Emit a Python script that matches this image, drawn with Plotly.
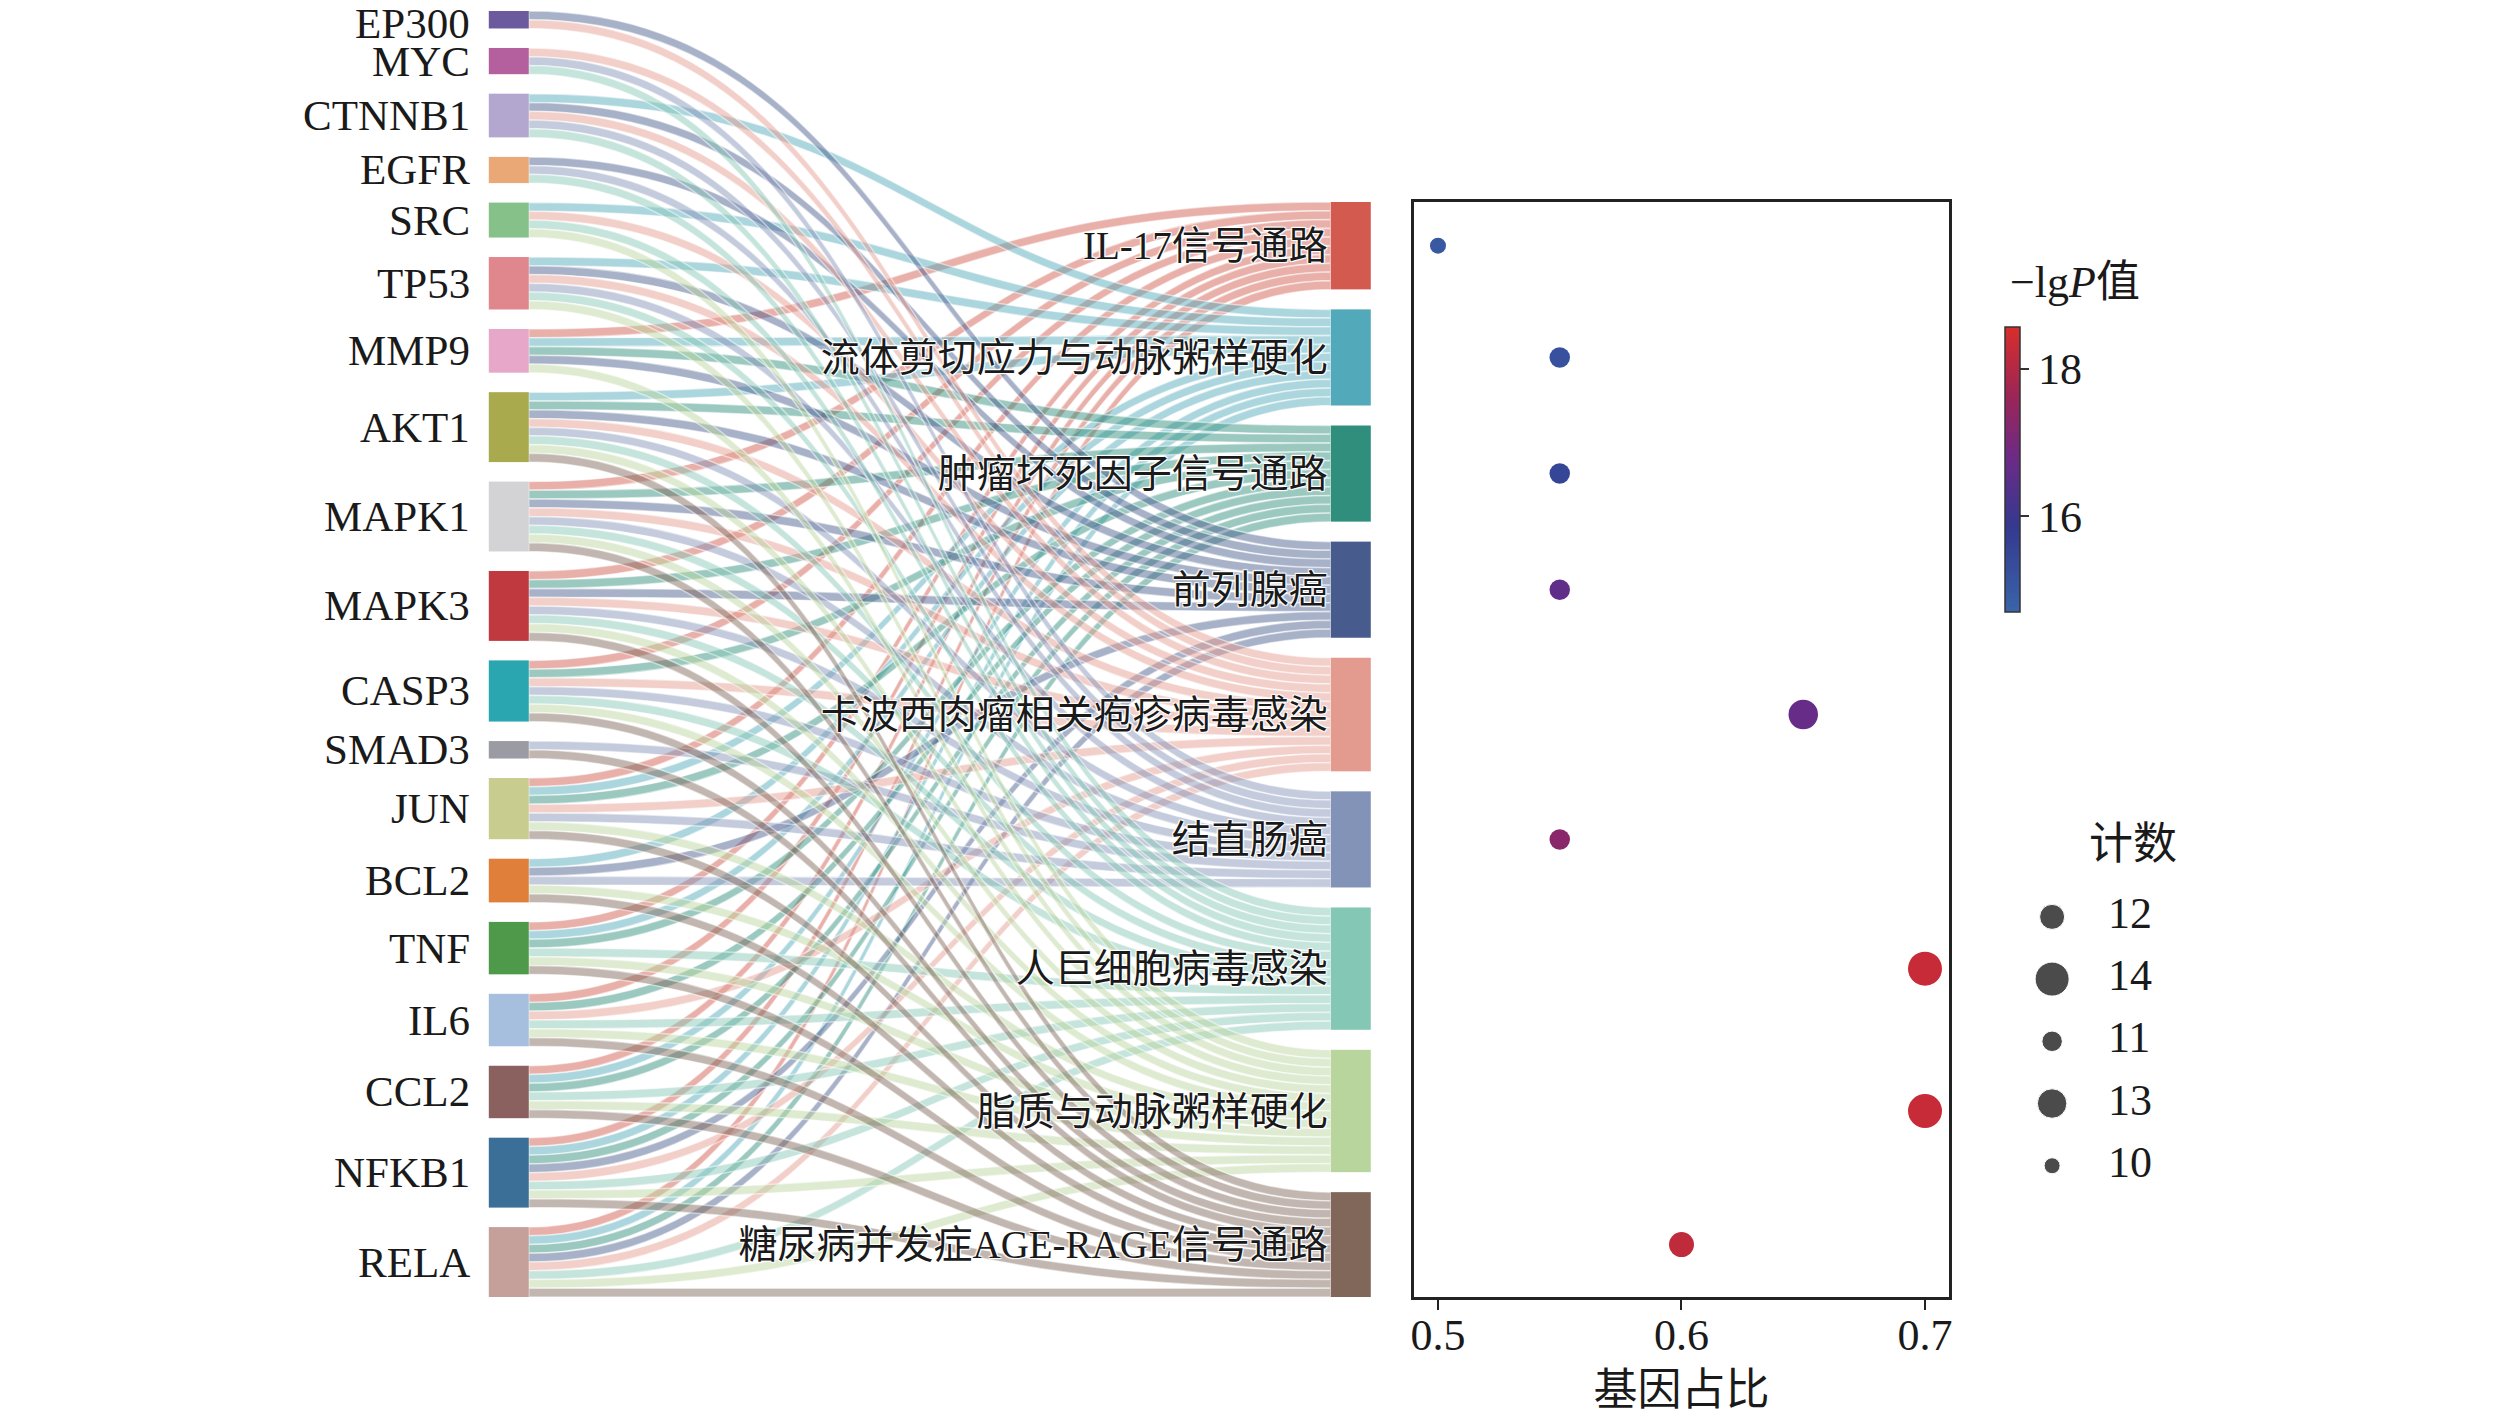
import plotly.graph_objects as go

# genes (left column of the sankey), top to bottom
genes = ["EP300", "MYC", "CTNNB1", "EGFR", "SRC", "TP53", "MMP9", "AKT1", "MAPK1", "MAPK3",
         "CASP3", "SMAD3", "JUN", "BCL2", "TNF", "IL6", "CCL2", "NFKB1", "RELA"]
gene_colors = ["#6b5b9e", "#b5609e", "#b3a6cf", "#eba877", "#86c18a", "#e0868d", "#e6a7c9",
               "#a9aa4e", "#d3d3d5", "#c0393f", "#2aa6b0", "#9a9ba3", "#c8cc8e", "#e07f3a",
               "#4e9a4a", "#a6bfdf", "#8a615e", "#3b6f97", "#c5a09b"]

# KEGG pathways (right column), top to bottom
pathways = ["IL-17信号通路", "流体剪切应力与动脉粥样硬化", "肿瘤坏死因子信号通路", "前列腺癌",
            "卡波西肉瘤相关疱疹病毒感染", "结直肠癌", "人巨细胞病毒感染", "脂质与动脉粥样硬化",
            "糖尿病并发症AGE-RAGE信号通路"]
pathway_colors = ["#d25a4e", "#52a9b9", "#2f8f7c", "#475b8c", "#e39a8f", "#8393b7",
                  "#85c7b5", "#b9d59e", "#806759"]

# genes in each pathway
il17_genes = ["MMP9", "MAPK1", "MAPK3", "CASP3", "JUN", "TNF", "IL6", "CCL2", "NFKB1", "RELA"]
fluid_genes = ["CTNNB1", "SRC", "TP53", "MMP9", "AKT1", "JUN", "BCL2", "TNF", "CCL2", "NFKB1", "RELA"]
tnf_genes = ["MMP9", "AKT1", "MAPK1", "MAPK3", "CASP3", "JUN", "TNF", "IL6", "CCL2", "NFKB1", "RELA"]
prostate_genes = ["EP300", "CTNNB1", "EGFR", "TP53", "MMP9", "AKT1", "MAPK1", "MAPK3", "BCL2", "NFKB1", "RELA"]
kaposi_genes = ["EP300", "MYC", "CTNNB1", "SRC", "TP53", "AKT1", "MAPK1", "MAPK3", "CASP3", "JUN",
                "IL6", "NFKB1", "RELA"]
colorectal_genes = ["MYC", "CTNNB1", "EGFR", "TP53", "AKT1", "MAPK1", "MAPK3", "CASP3", "SMAD3", "JUN", "BCL2"]
hcmv_genes = ["MYC", "CTNNB1", "EGFR", "SRC", "TP53", "AKT1", "MAPK1", "MAPK3", "CASP3", "TNF",
              "IL6", "CCL2", "NFKB1", "RELA"]
lipid_genes = ["SRC", "TP53", "MMP9", "AKT1", "MAPK1", "MAPK3", "CASP3", "JUN", "BCL2", "TNF",
               "IL6", "CCL2", "NFKB1", "RELA"]
age_genes = ["AKT1", "MAPK1", "MAPK3", "CASP3", "SMAD3", "JUN", "BCL2", "TNF", "IL6", "CCL2", "NFKB1", "RELA"]
pathway_genes = [il17_genes, fluid_genes, tnf_genes, prostate_genes, kaposi_genes,
                 colorectal_genes, hcmv_genes, lipid_genes, age_genes]

# enrichment dot plot
gene_ratio = [0.5, 0.55, 0.55, 0.55, 0.65, 0.55, 0.7, 0.7, 0.6]
gene_count = [10, 11, 11, 11, 13, 11, 14, 14, 12]
neg_log_p = [15.0, 15.2, 15.5, 16.6, 16.7, 17.3, 18.3, 18.3, 18.2]

legend_counts = [12, 14, 11, 13, 10]

FONT = "Liberation Serif, Noto Sans CJK SC, serif"
W, H = 2520, 1423

# sankey geometry (pixels)
sk_top, sk_bot = 11, 1297
sk_left, sk_right = 487, 1371
thick = 40
pad = 19.5
right_gap = 20
Hd = sk_bot - sk_top
Wd = sk_right - sk_left


def hex_rgba(h, a):
    h = h.lstrip("#")
    return "rgba(%d,%d,%d,%.2f)" % (int(h[0:2], 16), int(h[2:4], 16), int(h[4:6], 16), a)


def dot_size(c):
    return 4.5 * c - 29


# build links
sources, targets, colors = [], [], []
for p, members in enumerate(pathway_genes):
    for g in members:
        sources.append(genes.index(g))
        targets.append(len(genes) + p)
        colors.append(hex_rgba(pathway_colors[p], 0.48))
total = len(sources)
gene_deg = [sources.count(i) for i in range(len(genes))]
path_cnt = [len(m) for m in pathway_genes]

ky = (Hd - (len(genes) - 1) * pad) / total


def centers(values, gap, start):
    out, y = [], start
    for v in values:
        out.append(y + v * ky / 2)
        y += v * ky + gap
    return out


left_c = centers(gene_deg, pad, 0)
right_top = Hd - (total * ky + (len(pathways) - 1) * right_gap)
right_c = centers(path_cnt, right_gap, right_top)

node_x = [thick / 2 / Wd] * len(genes) + [1 - thick / 2 / Wd] * len(pathways)
node_y = [c / Hd for c in left_c] + [c / Hd for c in right_c]

fig = go.Figure()

fig.add_trace(go.Sankey(
    domain=dict(x=[sk_left / W, sk_right / W], y=[1 - sk_bot / H, 1 - sk_top / H]),
    arrangement="fixed",
    textfont=dict(family=FONT, size=39, color="#1a1a1a"),
    node=dict(label=[""] * len(genes) + pathways,
              color=gene_colors + pathway_colors,
              x=node_x, y=node_y, pad=pad, thickness=thick,
              line=dict(width=0), hoverinfo="none"),
    link=dict(source=sources, target=targets, value=[1] * total, color=colors,
              line=dict(color="rgba(255,255,255,0.5)", width=1.5), hoverinfo="none"),
))

# gene labels left of the nodes (kept inside the top edge)
for g, c in zip(genes, left_c):
    fig.add_annotation(x=(sk_left - 17) / W, y=1 - max(sk_top + c, 24) / H, xref="paper", yref="paper",
                       text=g, showarrow=False, xanchor="right", yanchor="middle",
                       font=dict(family=FONT, size=43, color="#1a1a1a"))

# dot plot aligned to right sankey nodes
fig.add_trace(go.Scatter(
    x=gene_ratio, y=right_c, mode="markers", showlegend=False,
    marker=dict(size=[dot_size(c) for c in gene_count], color=neg_log_p,
                colorscale=[[0, "#3a64a9"], [0.3, "#34398f"], [0.55, "#6e2a86"],
                            [0.75, "#9a2558"], [1, "#d82e2b"]],
                cmin=14.7, cmax=18.57, opacity=1, line=dict(width=0),
                colorbar=dict(x=2007 / W, xanchor="left", xpad=0, ypad=0,
                              y=1 - 469.5 / H, yanchor="middle", len=285 / H, lenmode="fraction",
                              thickness=15, outlinewidth=1.5, outlinecolor="#333",
                              ticks="outside", ticklen=9, tickwidth=2, tickcolor="#333",
                              tickvals=[16, 18], tickfont=dict(family=FONT, size=44, color="#1a1a1a"))),
    xaxis="x", yaxis="y",
))

# size legend drawn as its own little scatter
fig.add_trace(go.Scatter(
    x=[0.15] * len(legend_counts), y=[str(c) for c in legend_counts], mode="markers",
    marker=dict(size=[dot_size(c) for c in legend_counts], color="black"),
    showlegend=False, xaxis="x3", yaxis="y3", hoverinfo="skip",
))
fig.add_trace(go.Scatter(
    x=[0.43] * len(legend_counts), y=[str(c) for c in legend_counts], mode="text",
    text=[str(c) for c in legend_counts], textposition="middle right",
    textfont=dict(family=FONT, size=44, color="#1a1a1a"),
    showlegend=False, xaxis="x3", yaxis="y3", hoverinfo="skip",
))

fig.add_annotation(x=2135 / W, y=1 - 844 / H, xref="paper", yref="paper", text="计数",
                   showarrow=False, xanchor="center", yanchor="middle",
                   font=dict(family=FONT, size=44, color="#1a1a1a"))
fig.add_annotation(x=2010 / W, y=1 - 282 / H, xref="paper", yref="paper",
                   text="\u2212lg<i>P</i>值", showarrow=False, xanchor="left", yanchor="middle",
                   font=dict(family=FONT, size=44, color="#1a1a1a"))

fig.update_layout(
    width=W, height=H,
    margin=dict(l=0, r=0, t=0, b=0),
    paper_bgcolor="white", plot_bgcolor="white",
    font=dict(family=FONT, size=44, color="#1a1a1a"),
    xaxis=dict(domain=[1414 / W, 1951 / W], range=[0.49, 0.71], tickvals=[0.5, 0.6, 0.7],
               ticktext=["0.5", "0.6", "0.7"], ticks="outside", ticklen=10, tickwidth=2,
               tickcolor="#222", ticklabelstandoff=-13,
               showline=True, linecolor="#222", linewidth=2.5, mirror=True,
               showgrid=False, zeroline=False,
               title=dict(text="基因占比", standoff=16, font=dict(size=44))),
    yaxis=dict(domain=[1 - sk_bot / H, 1 - (sk_top + right_top) / H], range=[Hd, right_top],
               showticklabels=False, ticks="", showline=True, linecolor="#222", linewidth=2.5,
               mirror=True, showgrid=False, zeroline=False),
    xaxis3=dict(domain=[2024 / W, 2224 / W], range=[0, 1], visible=False, anchor="y3"),
    yaxis3=dict(domain=[1 - 1191 / H, 1 - 886 / H], type="category",
                categoryorder="array", categoryarray=[str(c) for c in legend_counts],
                autorange="reversed", visible=False, anchor="x3"),
)

fig.write_html("out.html", config={"displayModeBar": False},
               post_script="document.body.style.margin='0';document.body.style.overflow='hidden';")
